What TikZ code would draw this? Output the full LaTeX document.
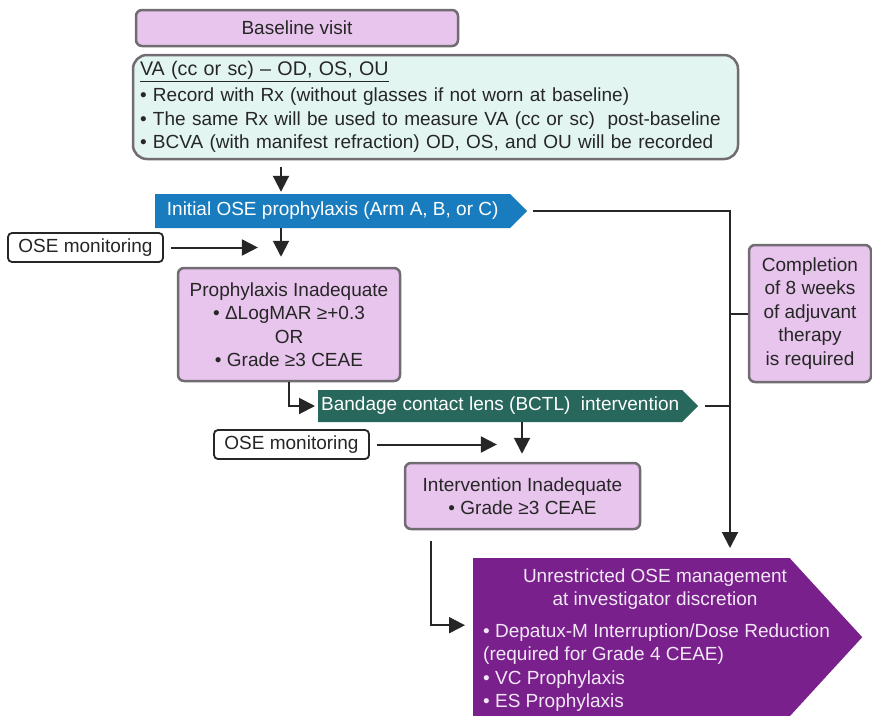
\documentclass[tikz,border=0pt]{standalone}
\usepackage{fontspec}
\setmainfont{Liberation Sans}
\usetikzlibrary{arrows.meta,shapes.symbols,positioning}

\definecolor{boxpink}{RGB}{232,197,237}
\definecolor{boxmint}{RGB}{226,245,240}
\definecolor{bordergray}{RGB}{112,108,114}
\definecolor{inkgray}{RGB}{38,38,38}
\definecolor{armblue}{RGB}{24,124,190}
\definecolor{lensgreen}{RGB}{40,103,92}
\definecolor{mgmtpurple}{RGB}{121,32,140}
\definecolor{mgmttext}{RGB}{242,232,245}

\tikzset{
	pinkbox/.style={draw=bordergray, line width=2.5pt, fill=boxpink, rounded corners=6pt, align=center, text=inkgray, inner sep=0pt},
	osebox/.style={draw=inkgray, line width=1.8pt, fill=white, rounded corners=4pt, minimum width=155pt, minimum height=29pt, inner sep=0pt, text=inkgray},
	banner/.style={signal, signal to=east, signal pointer angle=90, text=white, inner sep=0pt},
	flow/.style={draw=inkgray, line width=2pt, -{Triangle[width=16pt,length=16pt]}},
	link/.style={draw=inkgray, line width=2pt},
}

\begin{document}
\begin{tikzpicture}[x=1pt, y=-1pt, font=\fontsize{19}{23.5}\selectfont]
	\useasboundingbox (0,0) rectangle (872,715);

	%columns of the arrows
	\coordinate (c1) at (281,0);
	\coordinate (c2) at (522,0);
	\coordinate (c3) at (730,0);

	%boxes
	\node[pinkbox, minimum width=322pt, minimum height=36pt] (base) at (297,28) {Baseline visit};
	\node[draw=bordergray, line width=2.5pt, fill=boxmint, rounded corners=14pt, minimum width=605pt, minimum height=104pt,
		text width=591pt, inner xsep=6pt, align=left, text=inkgray] (va) at (435.5,107)
		{{\fontsize{19.7}{23.5}\selectfont\underline{VA (cc or sc) – OD, OS, OU}}\\[3pt]
		• Record with Rx (without glasses if not worn at baseline)\\
		• The same Rx will be used to measure VA (cc or sc)\ \ post-baseline\\
		• BCVA (with manifest refraction) OD, OS, and OU will be recorded};
	\node[pinkbox, minimum width=222pt, minimum height=113pt] (prof) at (289,324.5)
		{Prophylaxis Inadequate\\• ΔLogMAR ≥+0.3\\OR\\• Grade ≥3 CEAE};
	\node[pinkbox, minimum width=235pt, minimum height=66pt] (inter) at (522.5,496)
		{Intervention Inadequate\\• Grade ≥3 CEAE};
	\node[pinkbox, minimum width=122pt, minimum height=137pt] (compl) at (810,313.5)
		{Completion\\of 8 weeks\\of adjuvant\\therapy\\is required};
	\node[osebox] (ose1) at (85.5,247.5) {OSE monitoring};
	\node[osebox] (ose2) at (291.5,444.5) {OSE monitoring};

	%banners
	\node[banner, fill=armblue, minimum width=372pt, minimum height=34pt, anchor=west] (init) at (155,211)
		{Initial OSE prophylaxis (Arm A, B, or C)};
	\node[banner, fill=lensgreen, minimum width=380pt, minimum height=32pt, anchor=west] (bctl) at (318,406)
		{Bandage contact lens (BCTL)\ \ intervention};
	\node[banner, fill=mgmtpurple, signal pointer angle=95, minimum width=389pt, minimum height=158pt, anchor=north west] (mgmt) at (473,558) {};
	\node[text=mgmttext, align=center, inner sep=0pt] (mgmthead) at (655,589)
		{Unrestricted OSE management\\at investigator discretion};
	\node[text=mgmttext, align=left, inner sep=0pt, anchor=west] (mgmtlist) at (483,667.5)
		{• Depatux-M Interruption/Dose Reduction\\(required for Grade 4 CEAE)\\• VC Prophylaxis\\• ES Prophylaxis};

	%arrows
	\draw[flow, shorten <=7pt, shorten >=2pt]	(c1 |- va.south) -- (c1 |- init.north);
	\draw[flow, shorten >=10pt]			(c1 |- init.south) -- (c1 |- prof.north);
	\draw[flow, shorten <=7pt]			(ose1.east) -- ++(94,0);
	\draw[flow, shorten >=3pt]			(prof.south) |- (bctl.west);
	\draw[flow, shorten >=8pt]			(c2 |- bctl.south) -- (c2 |- inter.north);
	\draw[flow, shorten <=7pt]			(ose2.east) -- ++(127,0);
	\draw[flow, shorten <=11pt, shorten >=8pt]	([xshift=27pt]inter.south west) |- ([yshift=12pt]mgmt.west);
	\draw[flow, shorten <=6pt, shorten >=10pt]	(init.east) -| (c3 |- mgmt.north);
	\draw[link, shorten <=7pt]			(bctl.east) -- (c3 |- bctl.east);
	\draw[link]					(compl.west) -- (c3 |- compl.west);
\end{tikzpicture}
\end{document}
